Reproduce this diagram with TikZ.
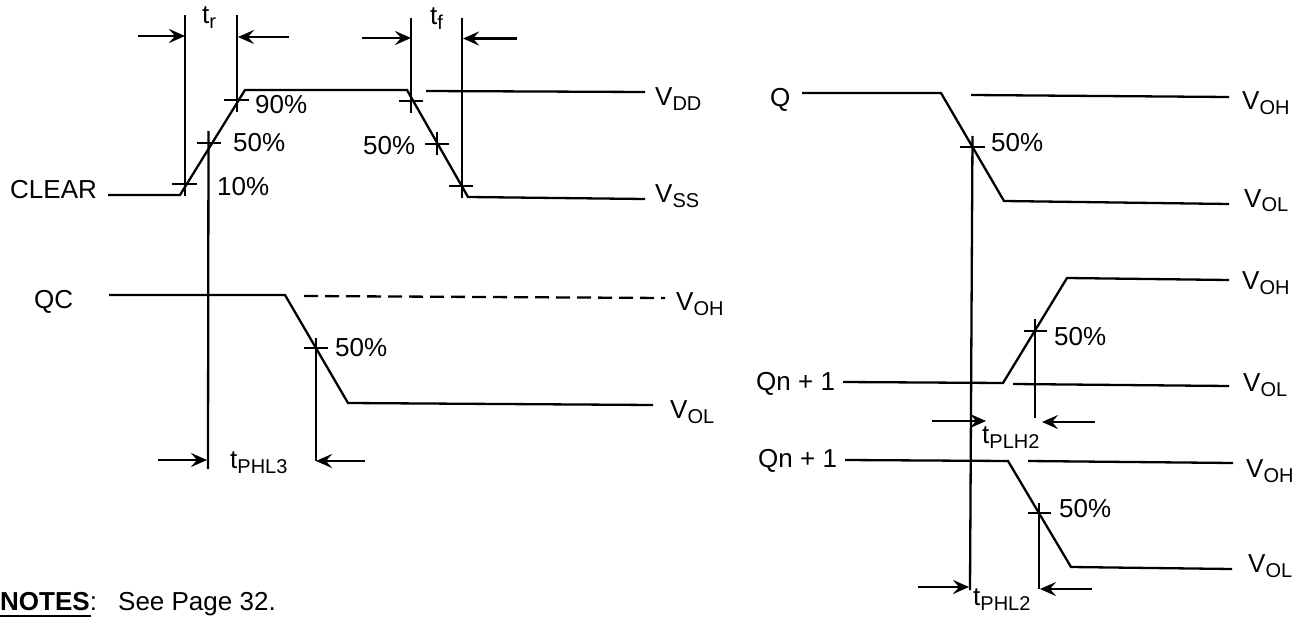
\documentclass[tikz,border=0pt]{standalone}
\usepackage{fontspec}
\setmainfont{Liberation Sans}
\usetikzlibrary{arrows.meta}
\newcommand{\Sb}[2]{#1\raisebox{-5pt}{\fontsize{20}{23}\selectfont #2}}
\tikzset{
  wave/.style={line width=2.3pt,line join=miter,black},
  guide/.style={line width=2.3pt,black},
  tick/.style={line width=2.3pt,black},
  meas/.style={line width=2.6pt,black,-{Stealth[length=16pt,width=14pt,inset=6pt]}},
  lab/.style={anchor=base west,inner sep=0pt,font=\fontsize{26}{30}\selectfont,text=black},
}
\begin{document}
\begin{tikzpicture}[x=1pt,y=-1pt]
\useasboundingbox (0,0) rectangle (1309,623);
% ---- CLEAR
\draw[wave] (108,195) -- (180,195) -- (245,90) -- (407,90) -- (468,197) -- (645,199);
\draw[wave] (426,91) -- (645,92);
\draw[guide] (185,15) -- (185,196);
\draw[guide] (237,15) -- (237,112);
\draw[guide] (411,18) -- (411,113);
\draw[guide] (462,18) -- (462,198);
\draw[guide] (208.5,131) -- (208,469);
\draw[tick] (172,184) -- (197,184);
\draw[tick] (197,143) -- (221,143);
\draw[tick] (224,100) -- (249,100);
\draw[tick] (399,101) -- (423,101);
\draw[tick] (425,144) -- (449,144);
\draw[tick] (437,132) -- (437,155);
\draw[tick] (449,186) -- (473,186);
\draw[meas] (138,36) -- (185,36);
\draw[meas] (289,37) -- (238,37);
\draw[meas] (362,38) -- (411,38);
\draw[meas] (517,38.5) -- (463,38.5);
\node[lab] (tr) at (202,24) {\Sb{t}{r}};
\node[lab] (tf) at (430,25) {\Sb{t}{f}};
\node[lab] (clr) at (10,198) {CLEAR};
\node[lab] (p90) at (255,114) {90\%};
\node[lab] (p50a) at (233,151) {50\%};
\node[lab] (p10) at (217,195) {10\%};
\node[lab] (p50b) at (363,154) {50\%};
\node[lab] (vdd) at (655,106) {\Sb{V}{DD}};
\node[lab] (vss) at (655,202) {\Sb{V}{SS}};
% ---- QC
\draw[wave] (109,295) -- (285,295) -- (348,403) -- (653,405);
\draw[wave,dash pattern=on 14pt off 7pt] (304,296) -- (665,298);
\draw[tick] (304,348) -- (328,348);
\draw[guide] (316,338) -- (316,461);
\draw[meas] (158,460) -- (207,460);
\draw[meas] (365,461) -- (316,461);
\node[lab] (qc) at (34,308) {QC};
\node[lab] (p50c) at (335,356) {50\%};
\node[lab] (tphl3) at (230,468) {\Sb{t}{PHL3}};
\node[lab] (voh1) at (676,310) {\Sb{V}{OH}};
\node[lab] (vol1) at (670,418) {\Sb{V}{OL}};
% ---- notes
\node[lab] (notes) at (0,610) {\textbf{NOTES}:};
\node[lab] (see) at (118,610) {See Page 32.};
\draw[line width=2.3pt,black] (0,616) -- (91,616);
% ---- Q
\draw[wave] (802,93) -- (941,93) -- (1004,201) -- (1229,204);
\draw[wave] (971,95) -- (1229,97);
\draw[tick] (960,147) -- (985,147);
\draw[guide] (972.5,136) -- (970,590);
\node[lab] (q) at (770,107) {Q};
\node[lab] (p50d) at (991,151) {50\%};
\node[lab] (voh2) at (1242,110) {\Sb{V}{OH}};
\node[lab] (vol2) at (1244,207) {\Sb{V}{OL}};
% ---- Qn+1 upper
\draw[wave] (843,382) -- (1003,383) -- (1067,278) -- (1229,280);
\draw[wave] (1013,384) -- (1229,386);
\draw[tick] (1024,331) -- (1047,331);
\draw[guide] (1035,319) -- (1035,418);
\draw[meas] (932,421) -- (986,421);
\draw[meas] (1095,422) -- (1042,422);
\node[lab] (qn1) at (756,390) {Qn + 1};
\node[lab] (p50e) at (1054,345) {50\%};
\node[lab] (voh3) at (1242,289) {\Sb{V}{OH}};
\node[lab] (vol3) at (1243,391) {\Sb{V}{OL}};
\node[lab] (tplh2) at (982,443) {\Sb{t}{PLH2}};
% ---- Qn+1 lower
\draw[wave] (845,460) -- (1008,461) -- (1071,567) -- (1232,569);
\draw[wave] (1028,461) -- (1233,463);
\draw[tick] (1028,513) -- (1051,513);
\draw[guide] (1039,503) -- (1039,589);
\draw[meas] (918,587) -- (969,587);
\draw[meas] (1092,589) -- (1040,589);
\node[lab] (qn2) at (758,467) {Qn + 1};
\node[lab] (p50f) at (1059,517) {50\%};
\node[lab] (voh4) at (1246,477) {\Sb{V}{OH}};
\node[lab] (vol4) at (1248,572) {\Sb{V}{OL}};
\node[lab] (tphl2) at (973,605) {\Sb{t}{PHL2}};
\end{tikzpicture}
\end{document}
